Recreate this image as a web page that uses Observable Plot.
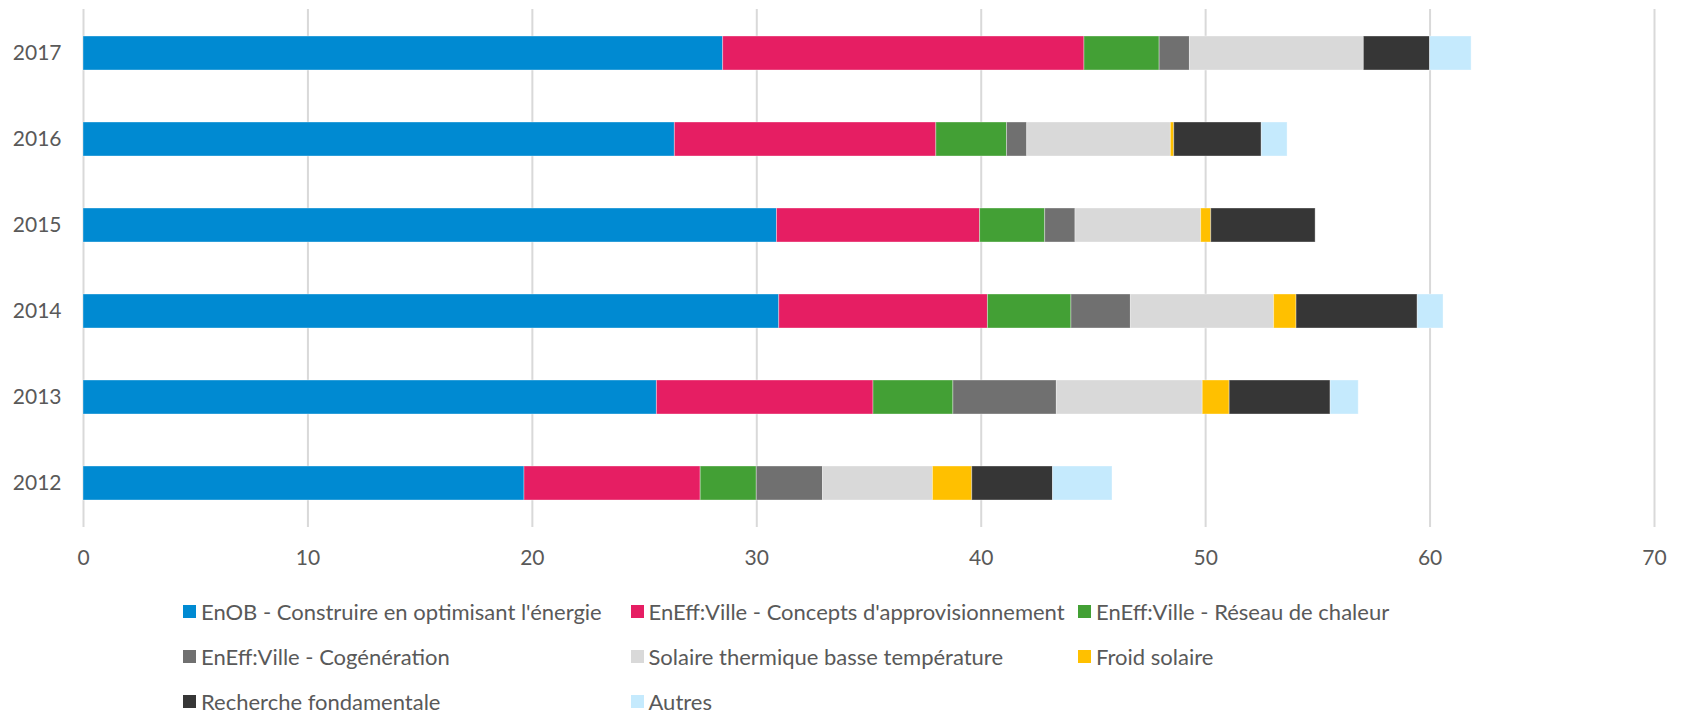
<!DOCTYPE html>
<html>
<head>
<meta charset="utf-8">
<script src="https://cdn.jsdelivr.net/npm/d3@7"></script>
<script src="https://cdn.jsdelivr.net/npm/@observablehq/plot@0.6"></script>
<style>
  html, body { margin: 0; padding: 0; background: #fff; }
  #wrap { position: relative; width: 1685px; height: 712px; font-family: Lato, "Open Sans", sans-serif; color: #595959; }
  #legend { position: absolute; left: 0; top: 0; width: 1685px; height: 712px; pointer-events: none; }
  .item { position: absolute; display: flex; align-items: center; height: 13px; font-size: 22px; white-space: nowrap; }
  .sw { width: 13px; height: 13px; margin-right: 5px; flex: none; }
</style>
</head>
<body>
<div id="wrap"><div id="chart"></div><div id="legend"></div></div>
<script>
const years = ["2017", "2016", "2015", "2014", "2013", "2012"];
const seriesNames = [
  "EnOB - Construire en optimisant l'énergie",
  "EnEff:Ville - Concepts d'approvisionnement",
  "EnEff:Ville - Réseau de chaleur",
  "EnEff:Ville - Cogénération",
  "Solaire thermique basse température",
  "Froid solaire",
  "Recherche fondamentale",
  "Autres"
];
const seriesColors = ["#008AD2", "#E61E63", "#43A035", "#707070", "#D9D9D9", "#FFC000", "#363636", "#C5EAFD"];

// values per year, same order as `years`
const enob             = [28.5, 26.35, 30.9, 31.0, 25.55, 19.65];
const eneffConcepts    = [16.1, 11.65, 9.05, 9.3, 9.65, 7.85];
const eneffReseau      = [3.35, 3.15, 2.9, 3.72, 3.56, 2.5];
const eneffCogen       = [1.35, 0.9, 1.35, 2.65, 4.61, 2.95];
const solaireThermique = [7.75, 6.4, 5.6, 6.38, 6.5, 4.9];
const froidSolaire     = [0, 0.15, 0.45, 1.0, 1.2, 1.75];
const recherche        = [2.95, 3.9, 4.65, 5.4, 4.5, 3.6];
const autres           = [1.85, 1.15, 0, 1.15, 1.25, 2.65];

const xTicks = [0, 10, 20, 30, 40, 50, 60, 70];

const seriesValues = [enob, eneffConcepts, eneffReseau, eneffCogen, solaireThermique, froidSolaire, recherche, autres];
const table = [];
seriesNames.forEach((s, i) => {
  years.forEach((y, j) => table.push({series: s, year: y, value: seriesValues[i][j]}));
});

const chart = Plot.plot({
  width: 1685,
  height: 585,
  marginLeft: 83,
  marginRight: 31,
  marginTop: 9,
  marginBottom: 58,
  style: {fontFamily: "Lato, 'Open Sans', sans-serif", fontSize: "21px", color: "#595959", background: "#fff"},
  x: {domain: [0, 70], ticks: xTicks},
  y: {domain: years, paddingInner: 0.6, paddingOuter: 0.3},
  color: {domain: seriesNames, range: seriesColors},
  marks: [
    Plot.ruleX(xTicks, {stroke: "#D9D9D9", strokeWidth: 2}),
    Plot.barX(table, {x: "value", y: "year", fill: "series", stroke: "#fff", strokeOpacity: 0.35, strokeWidth: 1}),
    Plot.axisX({ticks: xTicks, tickSize: 0, tickPadding: 23, label: null, fontSize: 21}),
    Plot.axisY({tickSize: 0, tickPadding: 22, label: null, fontSize: 21})
  ]
});
document.getElementById("chart").appendChild(chart);

const legend = document.getElementById("legend");
const colX = [183, 630.5, 1078];
seriesNames.forEach((s, i) => {
  const row = Math.floor(i / 3), col = i % 3;
  const div = document.createElement("div");
  div.className = "item";
  div.style.left = colX[col] + "px";
  div.style.top = (605 + row * 45) + "px";
  const sw = document.createElement("span");
  sw.className = "sw";
  sw.style.background = seriesColors[i];
  const tx = document.createElement("span");
  tx.textContent = s;
  div.appendChild(sw);
  div.appendChild(tx);
  legend.appendChild(div);
});
</script>
</body>
</html>
